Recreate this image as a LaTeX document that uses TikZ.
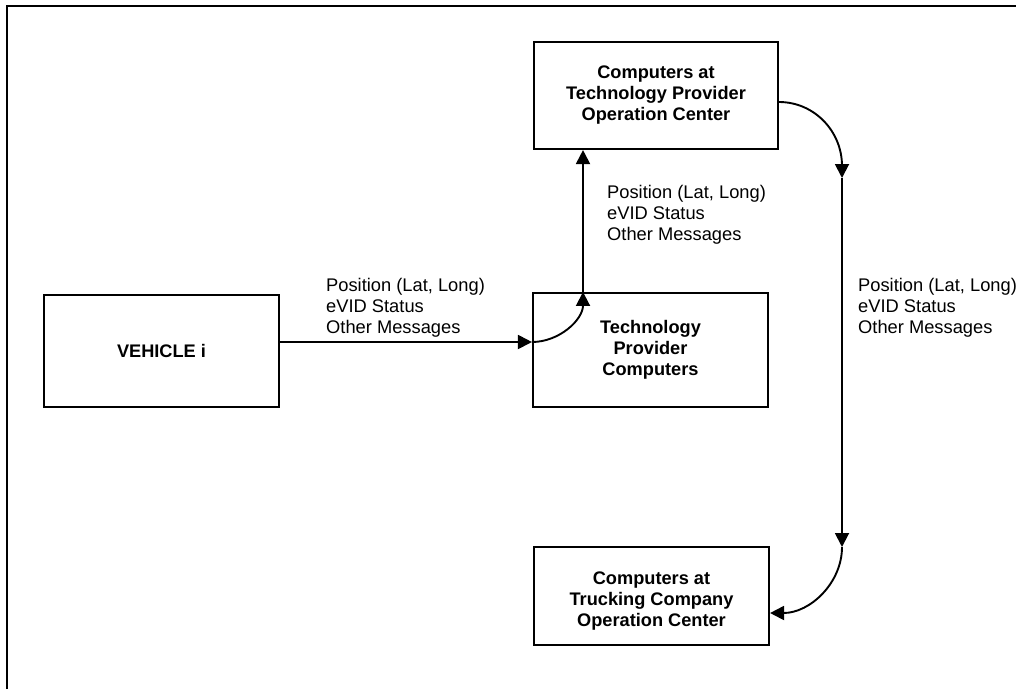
\documentclass[tikz,border=0pt]{standalone}
\usepackage{fontspec}
\setmainfont{Liberation Sans}
\usetikzlibrary{arrows.meta}
\begin{document}
\begin{tikzpicture}[x=1pt,y=-1pt,
  box/.style={draw, line width=2.1pt, inner sep=0pt, align=center,
    font=\bfseries\fontsize{18.2}{21}\selectfont},
  msg/.style={anchor=north west, inner sep=0pt, align=left,
    font=\fontsize{18.3}{21}\selectfont},
  flow/.style={line width=1.9pt},
  tip/.style={-{Triangle[length=14pt,width=14pt]}}]
\useasboundingbox (0,0) rectangle (1016,689);
% frame (top and left edges)
\draw[line width=2.4pt] (7,689) -- (7,6) -- (1016,6);

% boxes
\node[box, minimum width=235pt, minimum height=112pt] (veh) at (161.5,351) {VEHICLE i};
\node[box, minimum width=235pt, minimum height=114pt] (tp) at (650.5,350) {Technology\\Provider\\Computers};
\node[box, minimum width=244pt, minimum height=107pt] (top) at (656,95.5) {Computers at\\Technology Provider\\Operation Center};
\node[box, minimum width=235pt, minimum height=98pt] (bot) at (651.5,596) {};
\node[font=\bfseries\fontsize{18.2}{21}\selectfont, align=center, inner sep=0pt] (bottxt) at (651.5,601) {Computers at\\Trucking Company\\Operation Center};

% message labels
\node[msg] (m1) at (326,278) {Position (Lat, Long)\\eVID Status\\Other Messages};
\node[msg] (m2) at (607,185) {Position (Lat, Long)\\eVID Status\\Other Messages};
\node[msg] (m3) at (858,278) {Position (Lat, Long)\\eVID Status\\Other Messages};

% vehicle -> technology provider computers
\draw[flow,tip] ([yshift=9pt]veh.east) -- ([yshift=8pt]tp.west);
\draw[flow,tip] ([yshift=8pt]tp.west) .. controls +(27.6,0) and +(0,27.6) .. ([xshift=-67.5pt]tp.north);
\draw[flow,tip] ([xshift=-67.5pt]tp.north) -- ([xshift=-73pt]top.south);

% operation center -> trucking company
\coordinate (r0) at (842,166);
\coordinate (r1) at (842,178);
\coordinate (r2) at (842,547);
\draw[flow,tip] ([yshift=-6.5pt]top.east) .. controls +(35,0) and +(0,-35) .. (r0) -- (r1);
\draw[flow,tip] (r1) -- (r2);
\draw[flow,tip] (r2) .. controls +(0,36) and +(40,0) .. ([yshift=-17pt]bot.east);
\end{tikzpicture}
\end{document}
